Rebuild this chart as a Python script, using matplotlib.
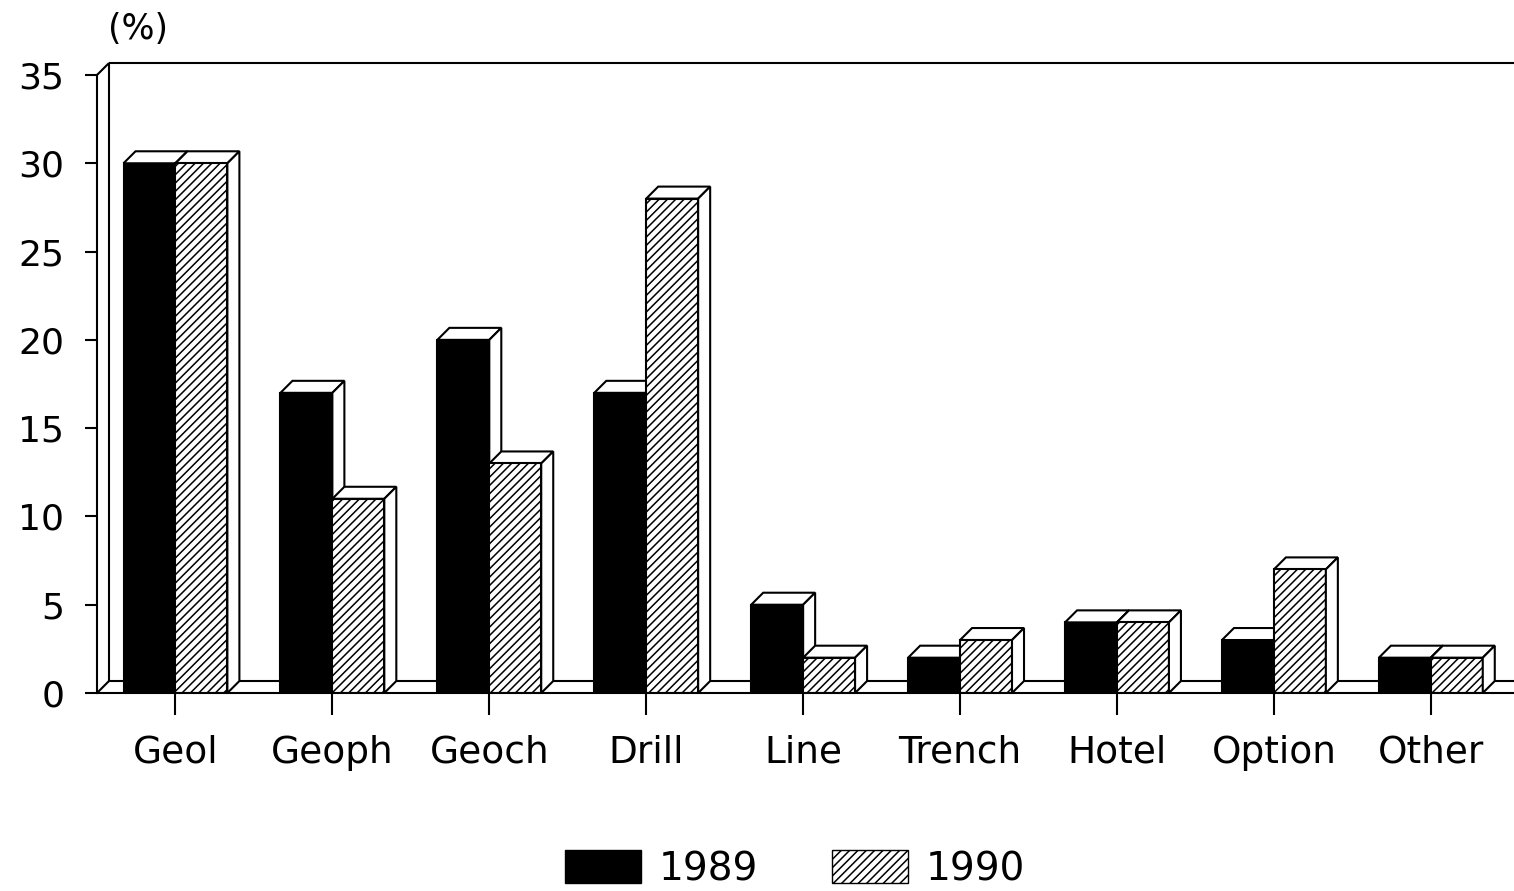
import matplotlib
matplotlib.use("Agg")
import matplotlib.pyplot as plt
from matplotlib.patches import Patch
import numpy as np

# -----------------------------------
# Data
# -----------------------------------
categories = ["Geol", "Geoph", "Geoch", "Drill", "Line", "Trench", "Hotel", "Option", "Other"]
share_1989 = [30, 17, 20, 17, 5, 2, 4, 3, 2]
share_1990 = [30, 11, 13, 28, 2, 3, 4, 7, 2]
y_ticks = [0, 5, 10, 15, 20, 25, 30, 35]

plt.rcParams["font.family"] = ["DejaVu Sans"]
plt.rcParams["hatch.linewidth"] = 1.1

fig = plt.figure(figsize=(15.14, 8.91), dpi=100)
W, H = 1514, 891
ax = fig.add_axes([97 / W, (H - 693) / H, 1417 / W, 618 / H])

xmin, xmax = -0.5, 8.53
ymin, ymax = 0, 35
ax.set_xlim(xmin, xmax)
ax.set_ylim(ymin, ymax)

# pseudo-3D depth, ~12 px right and up
dx = 12 / (1417 / (xmax - xmin))
dy = 12 / (618 / (ymax - ymin))
w = 0.331
lw = 1.5
hatch = "////"

x = np.arange(len(categories))

# -----------------------------------
# Back wall and floor
# -----------------------------------
kw = dict(color="black", lw=lw, clip_on=False, zorder=1, solid_capstyle="butt")
ax.plot([xmin, xmin + dx], [0, dy], **kw)
ax.plot([xmin + dx, xmax], [dy, dy], **kw)
ax.plot([xmin + dx, xmin + dx], [dy, ymax + dy], **kw)
ax.plot([xmin, xmin + dx], [ymax, ymax + dy], **kw)
ax.plot([xmin + dx, xmax], [ymax + dy, ymax + dy], **kw)

# -----------------------------------
# Bars
# -----------------------------------
for i, (c, a, b) in enumerate(zip(x, share_1989, share_1990)):
    z = 2 + i * 0.01
    ax.bar(c - w / 2, a, width=w, color="black", edgecolor="black", lw=lw, zorder=z)
    ax.fill([c - w, c, c + dx, c - w + dx], [a, a, a + dy, a + dy],
            facecolor="white", edgecolor="black", lw=lw, zorder=z, clip_on=False)
    ax.fill([c, c + dx, c + dx, c], [0, dy, a + dy, a],
            facecolor="white", edgecolor="black", lw=lw, zorder=z + 0.001, clip_on=False)
    ax.fill([c, c + w, c + w + dx, c + dx], [b, b, b + dy, b + dy],
            facecolor="white", edgecolor="black", lw=lw, zorder=z + 0.002, clip_on=False)
    ax.bar(c + w / 2, b, width=w, color="white", edgecolor="black", hatch=hatch,
           lw=lw, zorder=z + 0.003)
    ax.fill([c + w, c + w + dx, c + w + dx, c + w], [0, dy, b + dy, b],
            facecolor="white", edgecolor="black", lw=lw, zorder=z + 0.004, clip_on=False)

# -----------------------------------
# Axes styling
# -----------------------------------
for s in ["top", "right"]:
    ax.spines[s].set_visible(False)
ax.spines["left"].set_linewidth(lw)
ax.spines["bottom"].set_linewidth(lw)
ax.spines["bottom"].set_zorder(3)

ax.set_yticks(y_ticks)
ax.set_yticklabels([str(t) for t in y_ticks])
ax.tick_params(axis="y", direction="out", length=8.6, width=lw, pad=15, labelsize=26)
ax.set_xticks(x)
ax.set_xticklabels(categories)
ax.tick_params(axis="x", direction="out", length=16, width=lw, pad=14, labelsize=27)

fig.text(138 / W, 1 - 29 / H, "(%)", ha="center", va="center", fontsize=25)

handles = [Patch(facecolor="black", edgecolor="black"),
           Patch(facecolor="white", edgecolor="black", hatch=hatch)]
fig.legend(handles, ["1989", "1990"], loc="center", bbox_to_anchor=(795 / W, 1 - 869 / H),
           ncol=2, frameon=False, fontsize=28, handlelength=1.95, handleheight=0.95,
           handletextpad=0.45, columnspacing=1.9, borderpad=0)

fig.savefig("out.png", dpi=100, facecolor="white")
